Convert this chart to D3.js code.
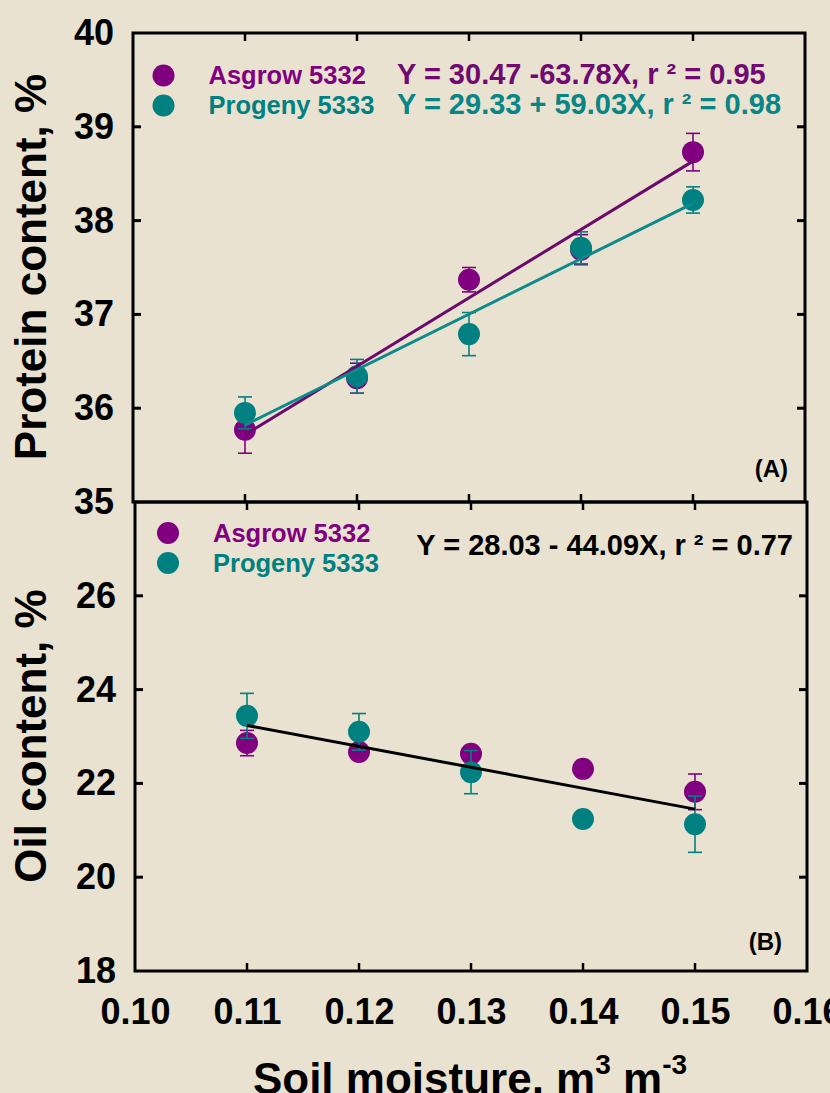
<!DOCTYPE html>
<html>
<head>
<meta charset="utf-8">
<script src="https://cdnjs.cloudflare.com/ajax/libs/d3/7.8.5/d3.min.js"></script>
<style>
  body { margin: 0; background: #e9e2d0; }
  svg text { font-family: "Liberation Sans", Arial, sans-serif; font-weight: bold; }
</style>
</head>
<body>
<script>
// soil moisture levels (m3 m-3)
const moisture = [0.11, 0.12, 0.13, 0.14, 0.15];

// panel A - protein content, %
const proteinAsgrow = [35.77, 36.32, 37.37, 37.69, 38.73];
const proteinAsgrowErr = [0.25, 0.16, 0.13, 0.16, 0.20];
const proteinProgeny = [35.95, 36.34, 36.79, 37.71, 38.22];
const proteinProgenyErr = [0.17, 0.18, 0.23, 0.17, 0.14];

// panel B - oil content, %
const oilAsgrow = [22.86, 22.67, 22.63, 22.31, 21.82];
const oilAsgrowErr = [0.27, 0.10, 0.10, 0.05, 0.38];
const oilProgeny = [23.44, 23.10, 22.24, 21.24, 21.13];
const oilProgenyErr = [0.48, 0.39, 0.46, 0.05, 0.60];

// tick labels
const xTicks = [0.10, 0.11, 0.12, 0.13, 0.14, 0.15, 0.16];
const proteinTicks = [35, 36, 37, 38, 39, 40];
const oilTicks = [18, 20, 22, 24, 26];

const eqAsgrow = "Y = 30.47 -63.78X, r \u00b2 = 0.95";
const eqProgeny = "Y = 29.33 + 59.03X, r \u00b2 = 0.98";
const eqOil = "Y = 28.03 - 44.09X, r \u00b2 = 0.77";

const purple = "#800080";
const teal = "#008080";

const width = 830;
const height = 1093;

const svg = d3.select("body").append("svg")
  .attr("width", width)
  .attr("height", height);

svg.append("rect")
  .attr("width", width)
  .attr("height", height)
  .attr("fill", "#e9e2d0");

/**
 * least squares fit, returns [y at first x, y at last x]
 */
function fitEnds(xs, ys) {
  const mx = d3.mean(xs), my = d3.mean(ys);
  let sxy = 0, sxx = 0;
  xs.forEach((x, i) => { sxy += (x - mx) * (ys[i] - my); sxx += (x - mx) * (x - mx); });
  const b = sxy / sxx;
  const a = my - b * mx;
  return [d3.min(xs), d3.max(xs)].map((x) => ({x: x, y: a + b * x}));
}

/**
 * draws one framed panel with inward ticks
 */
function drawPanel(opts) {
  const x = d3.scaleLinear().domain([0.10, 0.16]).range([opts.left, opts.right]);
  const y = d3.scaleLinear().domain(opts.domain).range([opts.bottom, opts.top]);
  const g = svg.append("g");

  g.append("rect")
    .attr("x", opts.left).attr("y", opts.top)
    .attr("width", opts.right - opts.left)
    .attr("height", opts.bottom - opts.top)
    .attr("fill", "none").attr("stroke", "#000").attr("stroke-width", 3);

  const tickY = opts.tickValues.filter((v) => v > opts.domain[0] && v < opts.domain[1]);

  // left axis with labels
  g.append("g")
    .attr("transform", `translate(${opts.left},0)`)
    .call(d3.axisLeft(y).tickValues(opts.tickValues).tickSizeInner(0).tickSizeOuter(0)
      .tickPadding(19).tickFormat(d3.format("d")))
    .call((a) => a.select(".domain").remove())
    .call((a) => a.selectAll("text").attr("font-size", 36).attr("fill", "#000")
      .attr("font-family", null));

  // inward ticks on four sides
  tickY.forEach((v) => {
    g.append("line").attr("x1", opts.left).attr("x2", opts.left + 8)
      .attr("y1", y(v)).attr("y2", y(v)).attr("stroke", "#000").attr("stroke-width", 3);
    g.append("line").attr("x1", opts.right).attr("x2", opts.right - 8)
      .attr("y1", y(v)).attr("y2", y(v)).attr("stroke", "#000").attr("stroke-width", 3);
  });
  moisture.forEach((v) => {
    g.append("line").attr("x1", x(v)).attr("x2", x(v))
      .attr("y1", opts.top).attr("y2", opts.top + 8).attr("stroke", "#000").attr("stroke-width", 2.5);
    g.append("line").attr("x1", x(v)).attr("x2", x(v))
      .attr("y1", opts.bottom).attr("y2", opts.bottom - 8).attr("stroke", "#000").attr("stroke-width", 2.5);
  });

  // error bars and dots, one series after the other
  opts.series.forEach((s) => {
    const eg = g.append("g").attr("stroke", s.color).attr("stroke-width", 1.6);
    moisture.forEach((m, i) => {
      const cx = x(m);
      const y1 = y(s.values[i] - s.err[i]);
      const y2 = y(s.values[i] + s.err[i]);
      eg.append("line").attr("x1", cx).attr("x2", cx).attr("y1", y1).attr("y2", y2);
      eg.append("line").attr("x1", cx - 7).attr("x2", cx + 7).attr("y1", y1).attr("y2", y1);
      eg.append("line").attr("x1", cx - 7).attr("x2", cx + 7).attr("y1", y2).attr("y2", y2);
    });
    g.append("g").selectAll("circle")
      .data(s.values)
      .join("circle")
      .attr("cx", (d, i) => x(moisture[i]))
      .attr("cy", (d) => y(d))
      .attr("r", 11)
      .attr("fill", s.color);
  });

  // regression lines
  const line = d3.line().x((d) => x(d.x)).y((d) => y(d.y));
  opts.fits.forEach((f) => {
    g.append("path")
      .attr("d", line(f.points))
      .attr("fill", "none")
      .attr("stroke", f.color)
      .attr("stroke-width", 3);
  });

  return {x: x, y: y, g: g};
}

// panel A
const panelA = drawPanel({
  left: 133, right: 805, top: 33, bottom: 502,
  domain: [35, 40],
  tickValues: proteinTicks,
  series: [
    {values: proteinAsgrow, err: proteinAsgrowErr, color: purple},
    {values: proteinProgeny, err: proteinProgenyErr, color: teal}
  ],
  fits: [
    {points: fitEnds(moisture, proteinAsgrow), color: "#6c0a6c"},
    {points: fitEnds(moisture, proteinProgeny), color: "#0e8a8a"}
  ]
});

// panel B, one pooled line for both cultivars
const pooledX = moisture.concat(moisture);
const pooledY = oilAsgrow.concat(oilProgeny);
const panelB = drawPanel({
  left: 135, right: 807, top: 502, bottom: 971,
  domain: [18, 28],
  tickValues: oilTicks,
  series: [
    {values: oilAsgrow, err: oilAsgrowErr, color: purple},
    {values: oilProgeny, err: oilProgenyErr, color: teal}
  ],
  fits: [
    {points: fitEnds(pooledX, pooledY), color: "#000"}
  ]
});

// x axis labels
svg.append("g")
  .attr("transform", "translate(0,971)")
  .call(d3.axisBottom(panelB.x).tickValues(xTicks).tickSizeInner(0).tickSizeOuter(0)
    .tickPadding(27).tickFormat(d3.format(".2f")))
  .call((a) => a.select(".domain").remove())
  .call((a) => a.selectAll("text").attr("font-size", 36).attr("fill", "#000")
    .attr("font-family", null));

// legends
function legendRow(px, py, color, label, eq, eqColor, eqX) {
  svg.append("circle").attr("cx", px).attr("cy", py).attr("r", 11).attr("fill", color);
  svg.append("text").attr("x", px + 45).attr("y", py + 8.5)
    .attr("font-size", 25.5).attr("fill", color).text(label);
  if (eq) {
    svg.append("text").attr("x", eqX).attr("y", py + 8.5)
      .attr("font-size", 29).attr("fill", eqColor).text(eq);
  }
}
legendRow(163.5, 75.5, purple, "Asgrow 5332", eqAsgrow, "#700a70", 397);
legendRow(163.5, 105.5, teal, "Progeny 5333", eqProgeny, "#0a8585", 397);
legendRow(168, 533, purple, "Asgrow 5332");
legendRow(168, 563, teal, "Progeny 5333");
svg.append("text").attr("x", 793).attr("y", 555).attr("text-anchor", "end")
  .attr("font-size", 29).attr("fill", "#000").text(eqOil);

// panel letters
svg.append("text").attr("x", 788).attr("y", 477).attr("text-anchor", "end")
  .attr("font-size", 24).text("(A)");
svg.append("text").attr("x", 782).attr("y", 950).attr("text-anchor", "end")
  .attr("font-size", 24).text("(B)");

// axis titles
svg.append("text")
  .attr("transform", "translate(46,267) rotate(-90)")
  .attr("text-anchor", "middle").attr("font-size", 44)
  .text("Protein content, %");
svg.append("text")
  .attr("transform", "translate(46,736) rotate(-90)")
  .attr("text-anchor", "middle").attr("font-size", 44)
  .text("Oil content, %");

const xt = svg.append("text")
  .attr("x", 470).attr("y", 1094)
  .attr("text-anchor", "middle").attr("font-size", 44);
xt.append("tspan").text("Soil moisture, m");
xt.append("tspan").attr("font-size", 28).attr("dy", -20).text("3");
xt.append("tspan").attr("dy", 20).text(" m");
xt.append("tspan").attr("font-size", 28).attr("dy", -20).text("-3");
</script>
</body>
</html>
